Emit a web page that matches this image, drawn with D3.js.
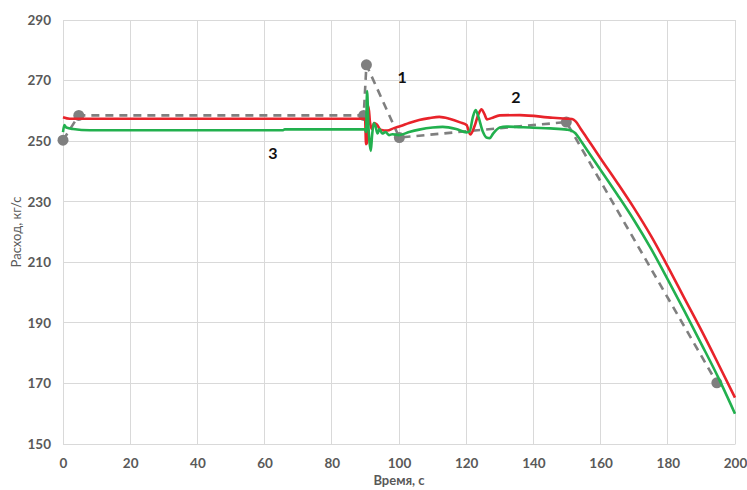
<!DOCTYPE html>
<html>
<head>
<meta charset="utf-8">
<script src="https://cdn.jsdelivr.net/npm/d3@7"></script>
<style>
  html, body { margin: 0; padding: 0; background: #fff; }
  svg { display: block; }
  .tick-label { font-family: Lato, "Open Sans", sans-serif; font-weight: 700; font-size: 13.5px; fill: #595959; }
  .axis-title { font-family: Lato, "Open Sans", sans-serif; font-size: 13px; fill: #595959; }
  .curve-label { font-family: Lato, "Open Sans", sans-serif; font-weight: 700; font-size: 16px; fill: #111; }
</style>
</head>
<body>
<svg id="chart" width="747" height="490"></svg>
<script>
// Axis ticks
const timeTicks = [0, 20, 40, 60, 80, 100, 120, 140, 160, 180, 200];
const flowTicks = [150, 170, 190, 210, 230, 250, 270, 290];

// Curve 1: reference points (dashed, with markers)
const refTime = [0, 4.7, 89.5, 90.3, 100.1, 149.8, 194.6];
const refFlow = [250.3, 258.5, 258.5, 275.2, 251.2, 256.3, 170.2];

// Curve 2 (red)
const redTime = [0, 2, 89.9, 90.2, 90.5, 90.9, 91.4, 92.0, 92.6, 93.4, 94.5, 96.5, 98.5, 100.5, 103, 106, 109, 112, 115, 118.2, 120.1, 121.2, 122.5, 123.6, 124.6, 125.4, 126.2, 127.5, 130, 136, 145.8, 150, 151.5, 152.5, 154, 156, 160, 165, 170, 175, 180, 185, 190, 195, 200];
const redFlow = [257.9, 257.4, 257.4, 249, 249.5, 261.5, 256, 254, 256, 255.5, 253.8, 253.5, 254.3, 255, 256, 257, 257.6, 258, 257.4, 256.2, 255.3, 252.2, 255, 258.8, 260.5, 259, 257.2, 257.6, 258.5, 258.6, 257.7, 257.4, 257.3, 256.6, 254.2, 250.9, 244.3, 236.2, 227.8, 218.7, 208.6, 198, 187.5, 176.5, 165.3];

// Curve 3 (green)
const greenTime = [0, 0.4, 1, 3, 8, 65.5, 66, 89.9, 90.2, 90.5, 90.9, 91.2, 91.6, 92.0, 92.5, 93.0, 93.6, 94.2, 95, 96, 97, 98, 100, 103, 106, 110, 113, 117, 120.1, 121, 122, 122.8, 123.5, 125, 126, 127, 128, 130, 132, 140, 145, 150, 151.5, 152.5, 154, 156, 160, 165, 170, 175, 180, 185, 190, 195, 200];
const greenFlow = [253, 255.3, 254.5, 254, 253.6, 253.6, 253.9, 253.9, 253, 266.5, 255, 250, 246.8, 252, 256, 255, 252.5, 254, 252.5, 253, 252, 252.3, 252, 253, 253.8, 254.5, 254.7, 254, 252.9, 253.2, 258, 260.3, 258.5, 253, 251.2, 251, 252.5, 254.5, 254.8, 254.4, 254.2, 253.8, 253.4, 252.6, 250.3, 247, 240.5, 232.3, 223.8, 214.5, 204.3, 193.8, 183, 172, 160];

// Curve numbers and where they sit (time, flow)
const curveLabels = ["1", "2", "3"];
const curveLabelTime = [100.9, 134.8, 62.5];
const curveLabelFlow = [271.5, 264.9, 246.4];

const svg = d3.select("#chart");
const x = d3.scaleLinear().domain([0, 200]).range([63, 735]);
const y = d3.scaleLinear().domain([150, 290]).range([444, 20]);

// Gridlines
const grid = svg.append("g");
grid.selectAll("line.h").data(flowTicks).join("line")
  .attr("x1", x(0)).attr("x2", x(200))
  .attr("y1", d => y(d)).attr("y2", d => y(d))
  .attr("stroke", "#d9d9d9").attr("stroke-width", 1).attr("shape-rendering", "crispEdges");
grid.selectAll("line.v").data(timeTicks).join("line")
  .attr("x1", d => x(d)).attr("x2", d => x(d))
  .attr("y1", y(150)).attr("y2", y(290))
  .attr("stroke", "#d9d9d9").attr("stroke-width", 1).attr("shape-rendering", "crispEdges");

// Axes (labels only; gridlines carry the lines)
const xAxis = svg.append("g").attr("transform", `translate(0,${y(150)})`)
  .call(d3.axisBottom(x).tickValues(timeTicks).tickSize(0).tickPadding(14).tickFormat(d3.format("d")));
xAxis.select(".domain").attr("stroke", "#d9d9d9");
xAxis.selectAll("text").attr("class", "tick-label").attr("font-family", null).attr("font-size", null).attr("fill", null);

const yAxis = svg.append("g").attr("transform", `translate(${x(0)},0)`)
  .call(d3.axisLeft(y).tickValues(flowTicks).tickSize(0).tickPadding(12).tickFormat(d3.format("d")));
yAxis.select(".domain").remove();
yAxis.selectAll("text").attr("class", "tick-label").attr("font-family", null).attr("font-size", null).attr("fill", null);

// Axis titles
svg.append("text").attr("class", "axis-title")
  .attr("x", (x(0) + x(200)) / 2).attr("y", 485)
  .attr("text-anchor", "middle").attr("font-weight", 700)
  .text("Время, с");
svg.append("text").attr("class", "axis-title")
  .attr("transform", `translate(21,${(y(150) + y(290)) / 2}) rotate(-90)`)
  .attr("text-anchor", "middle")
  .text("Расход, кг/с");

const toPoints = (ts, vs) => ts.map((t, i) => [t, vs[i]]);
const line = d3.line().x(d => x(d[0])).y(d => y(d[1]));
const smooth = d3.line().x(d => x(d[0])).y(d => y(d[1])).curve(d3.curveMonotoneX);

// Curve 1: dashed with markers
const refPts = toPoints(refTime, refFlow);
svg.append("path").attr("d", line(refPts))
  .attr("fill", "none").attr("stroke", "#7f7f7f").attr("stroke-width", 2.6)
  .attr("stroke-dasharray", "8,6");
svg.append("g").selectAll("circle").data(refPts).join("circle")
  .attr("cx", d => x(d[0])).attr("cy", d => y(d[1])).attr("r", 5.5)
  .attr("fill", "#7f7f7f");

// Curve 2: red
svg.append("path").attr("d", smooth(toPoints(redTime, redFlow)))
  .attr("fill", "none").attr("stroke", "#e8232a").attr("stroke-width", 2.6)
  .attr("stroke-linejoin", "round");

// Curve 3: green
svg.append("path").attr("d", smooth(toPoints(greenTime, greenFlow)))
  .attr("fill", "none").attr("stroke", "#22b04e").attr("stroke-width", 2.6)
  .attr("stroke-linejoin", "round");

// Curve numbers
svg.append("g").selectAll("text").data(curveLabels).join("text")
  .attr("class", "curve-label")
  .attr("x", (d, i) => x(curveLabelTime[i])).attr("y", (d, i) => y(curveLabelFlow[i]))
  .attr("text-anchor", "middle").attr("dominant-baseline", "central")
  .text(d => d);
</script>
</body>
</html>
